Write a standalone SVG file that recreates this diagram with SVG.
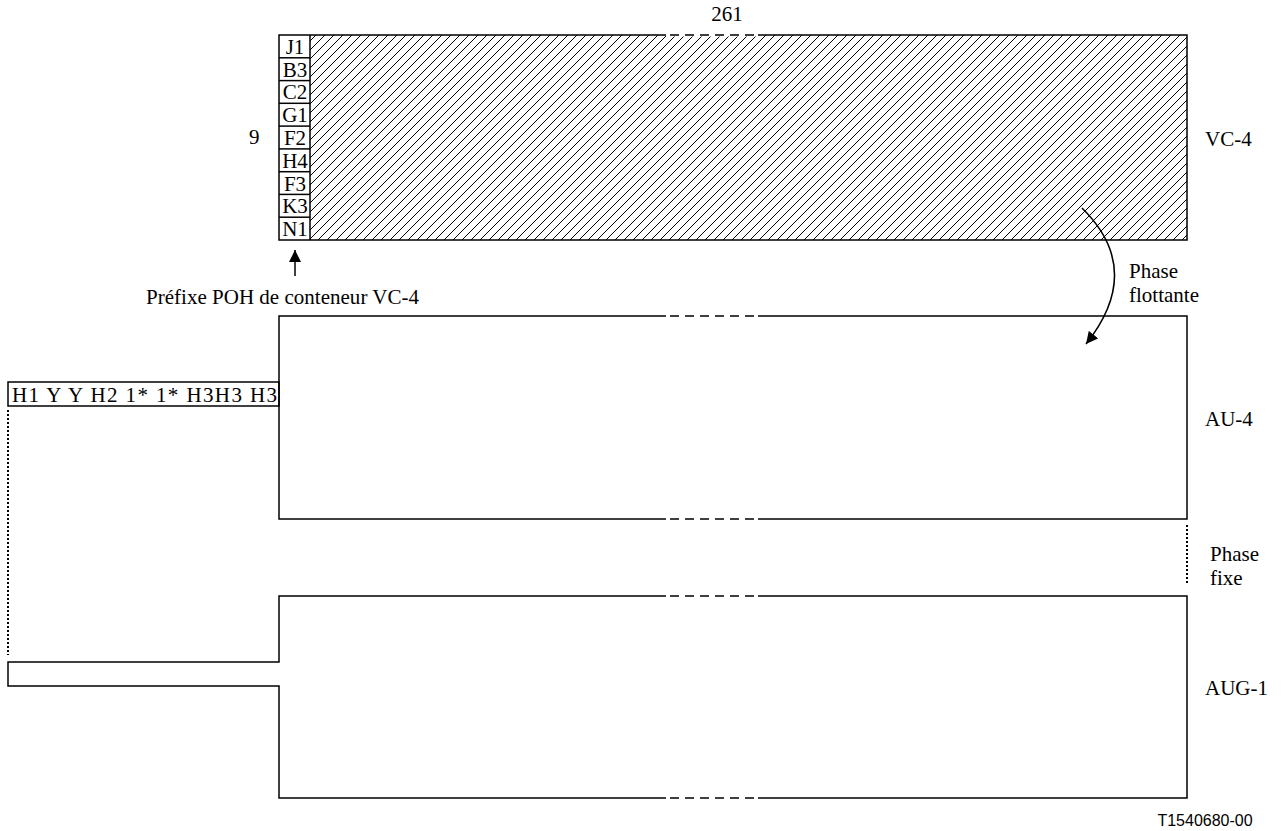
<svg xmlns="http://www.w3.org/2000/svg" width="1285" height="831" viewBox="0 0 1285 831">
<style>
text{font-family:"Liberation Serif","Times New Roman",serif;font-size:21px;fill:#000}
.p{font-size:21px}
.s{font-family:"Liberation Sans",Arial,sans-serif;font-size:16px}
.ln{fill:none;stroke:#000;stroke-width:1.5}
.wh{stroke:#fff;stroke-width:3}
.dash{fill:none;stroke:#000;stroke-width:1.5;stroke-dasharray:9 6}
.dot{fill:none;stroke:#000;stroke-width:2;stroke-dasharray:2 2}
</style>
<defs>
<pattern id="hatch" patternUnits="userSpaceOnUse" width="9" height="9">
<path d="M-1,10 L10,-1 M-5,5 L5,-5 M4,14 L14,4" stroke="#000" stroke-width="1"/>
</pattern>
<marker id="ah" viewBox="0 0 10 10" refX="10" refY="5" markerWidth="12" markerHeight="12" markerUnits="userSpaceOnUse" orient="auto">
<path d="M0,0 L10,5 L0,10 Z" fill="#000"/>
</marker>
</defs>
<g id="vc4">
<rect x="310" y="35" width="877" height="205" fill="url(#hatch)"/>
<rect x="279" y="35" width="908" height="205" class="ln"/>
<line x1="666" y1="35" x2="758" y2="35" class="wh"/>
<line x1="670" y1="35" x2="758" y2="35" class="dash"/>
<line x1="310" y1="35" x2="310" y2="240" class="ln"/>
<g class="ln">
<line x1="279" y1="57.8" x2="310" y2="57.8"/>
<line x1="279" y1="80.6" x2="310" y2="80.6"/>
<line x1="279" y1="103.3" x2="310" y2="103.3"/>
<line x1="279" y1="126.1" x2="310" y2="126.1"/>
<line x1="279" y1="148.9" x2="310" y2="148.9"/>
<line x1="279" y1="171.7" x2="310" y2="171.7"/>
<line x1="279" y1="194.4" x2="310" y2="194.4"/>
<line x1="279" y1="217.2" x2="310" y2="217.2"/>
</g>
<g text-anchor="middle">
<text x="295" y="54">J1</text>
<text x="295" y="77">B3</text>
<text x="295" y="99">C2</text>
<text x="295" y="122">G1</text>
<text x="295" y="145">F2</text>
<text x="295" y="168">H4</text>
<text x="295" y="191">F3</text>
<text x="295" y="213">K3</text>
<text x="295" y="236">N1</text>
</g>
<text x="727" y="21" text-anchor="middle">261</text>
<text x="249" y="144">9</text>
<text x="1205" y="146">VC-4</text>
</g>
<g id="poh-label">
<line x1="295" y1="276" x2="295" y2="250" class="ln" marker-end="url(#ah)"/>
<text x="146" y="304" textLength="273" lengthAdjust="spacing">Préfixe POH de conteneur VC-4</text>
</g>
<g id="au4">
<rect x="279" y="316" width="908" height="203" class="ln"/>
<line x1="666" y1="316" x2="758" y2="316" class="wh"/>
<line x1="670" y1="316" x2="758" y2="316" class="dash"/>
<line x1="666" y1="519" x2="758" y2="519" class="wh"/>
<line x1="670" y1="519" x2="758" y2="519" class="dash"/>
<rect x="8" y="382" width="271" height="24" class="ln"/>
<text x="12" y="402" textLength="265" lengthAdjust="spacing">H1 Y Y H2 1* 1* H3H3 H3</text>
<text x="1205" y="426">AU-4</text>
</g>
<g id="aug1">
<path d="M279,596 L1187,596 L1187,798 L279,798 L279,686 L8,686 L8,662 L279,662 Z" class="ln"/>
<line x1="666" y1="596" x2="758" y2="596" class="wh"/>
<line x1="670" y1="596" x2="758" y2="596" class="dash"/>
<line x1="666" y1="798" x2="758" y2="798" class="wh"/>
<line x1="670" y1="798" x2="758" y2="798" class="dash"/>
<text x="1205" y="695">AUG-1</text>
</g>
<g id="connectors">
<line x1="8" y1="410" x2="8" y2="655" class="dot"/>
<line x1="1187" y1="525" x2="1187" y2="584" class="dot"/>
<path d="M1082,208 Q1145,270 1086,344" class="ln" stroke-width="1.2" marker-end="url(#ah)"/>
</g>
<g id="labels">
<text x="1129" y="278">Phase</text>
<text x="1129" y="302">flottante</text>
<text x="1210" y="561">Phase</text>
<text x="1210" y="585">fixe</text>
<text x="1205" y="826" class="s" text-anchor="middle">T1540680-00</text>
</g>
</svg>
